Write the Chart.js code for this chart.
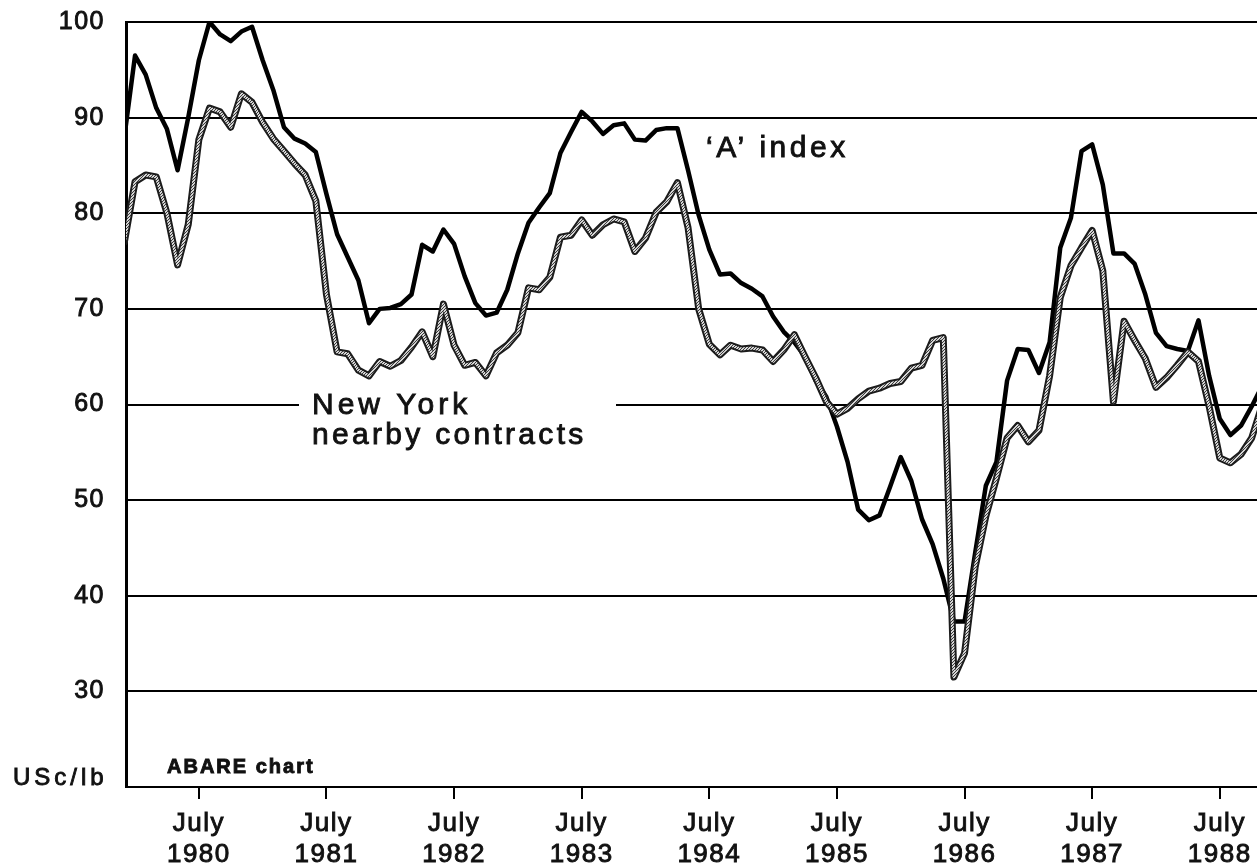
<!DOCTYPE html>
<html>
<head>
<meta charset="utf-8">
<title>Cotton prices: 'A' index and New York nearby contracts</title>
<script src="https://cdn.jsdelivr.net/npm/chart.js@4.4.1/dist/chart.umd.min.js"></script>
<style>
  html, body { margin: 0; padding: 0; background: #fff; }
  #wrap { width: 1257px; height: 864px; position: relative; }
</style>
</head>
<body>
<div id="wrap"><canvas id="chart"></canvas></div>
<script>
// Monthly series, first value is Dec 1979 (month -1, Jan 1980 = 0), last is Nov 1988.
const FIRST_MONTH = -1;

// 'A' index, USc/lb
const aIndex = [
  88, 96.5, 94.5, 91, 88.8, 84.5, 90, 96, 100, 98.7, 98, 99, 99.5,          // Dec79 - Dec80
  96, 92.9, 89, 87.8, 87.3, 86.4, 82, 77.8, 75.4, 73, 68.5, 70,             // 1981
  70.1, 70.5, 71.5, 76.7, 76, 78.3, 76.8, 73.4, 70.6, 69.3, 69.6, 72,       // 1982
  75.8, 79, 80.6, 82.1, 86.3, 88.5, 90.6, 89.6, 88.3, 89.2, 89.4, 87.7,     // 1983
  87.6, 88.7, 88.9, 88.9, 84.5, 79.8, 76.2, 73.6, 73.7, 72.7, 72.1, 71.3,   // 1984
  69.2, 67.6, 66.5, 65, 62.5, 60.8, 57.7, 54, 49, 47.9, 48.4, 51.4,         // 1985
  54.5, 52, 48, 45.4, 41.8, 37.3, 37.3, 44.5, 51.5, 54, 62.5, 65.8,         // 1986
  65.7, 63.3, 66.5, 76.4, 79.5, 86.5, 87.2, 83, 75.8, 75.8, 74.7, 71.5,     // 1987
  67.5, 66.1, 65.8, 65.6, 68.8, 63, 58.5, 56.8, 57.8, 59.8, 62              // 1988
];

// New York nearby contracts, USc/lb
const nyNearby = [
  77, 83.3, 84, 83.8, 80, 74.6, 78.8, 87.7, 91, 90.6, 89, 92.5, 91.6,
  89.5, 87.8, 86.5, 85.2, 84, 81.3, 71.5, 65.5, 65.3, 63.6, 63, 64.5,
  64, 64.6, 66, 67.6, 65, 70.5, 66.2, 64.1, 64.4, 63, 65.4, 66.2,
  67.5, 72.2, 72, 73.3, 77.5, 77.7, 79.3, 77.7, 78.8, 79.4, 79.1, 76,
  77.4, 80.1, 81.2, 83.2, 78.5, 70, 66.3, 65.2, 66.2, 65.8, 65.9, 65.7,
  64.5, 65.7, 67.3, 65, 62.8, 60.3, 59, 59.6, 60.6, 61.4, 61.7, 62.2,
  62.4, 63.8, 64.1, 66.7, 67, 31.5, 34, 43, 48.3, 52.3, 56.5, 57.8,
  56.1, 57.3, 63, 71.2, 74.5, 76.4, 78.2, 74, 60.3, 68.7, 66.7, 64.8,
  61.8, 62.8, 64.1, 65.5, 64.5, 59.8, 54.4, 53.9, 54.8, 56.5, 60
];

// x-axis ticks: July of each year (months since Jan 1980)
const julyTicks = [6, 18, 30, 42, 54, 66, 78, 90, 102];
const julyYears = ['1980', '1981', '1982', '1983', '1984', '1985', '1986', '1987', '1988'];
const yTicks = [30, 40, 50, 60, 70, 80, 90, 100];

const FONT = "'Liberation Sans', Arial, Helvetica, sans-serif";
const INK = '#111';

const toPoints = (vals) => vals.map((v, i) => ({ x: FIRST_MONTH + i, y: v }));

const canvas = document.getElementById('chart');

// Speckled light core of the printed New York line
function speckle() {
  const c = document.createElement('canvas');
  c.width = 3; c.height = 3;
  const g = c.getContext('2d');
  g.fillStyle = '#d6d6d6';
  g.fillRect(0, 0, 3, 3);
  g.fillStyle = '#3a3a3a';
  g.fillRect(0, 0, 1, 1);
  g.fillRect(2, 1, 1, 1);
  g.fillRect(1, 2, 1, 1);
  return canvas.getContext('2d').createPattern(c, 'repeat');
}

function text(ctx, str, x, y, font, spacing) {
  ctx.save();
  ctx.font = font;
  ctx.letterSpacing = spacing;
  ctx.fillStyle = INK;
  ctx.strokeStyle = INK;
  ctx.lineWidth = 0.9;
  ctx.textAlign = 'left';
  ctx.textBaseline = 'alphabetic';
  ctx.fillText(str, x, y);
  ctx.strokeText(str, x, y);
  ctx.restore();
}

// Inline series labels, chart credit and unit label
const annotate = {
  id: 'annotate',
  beforeDraw(chart) {
    chart.ctx.letterSpacing = '1.5px';
  },
  beforeDatasetsDraw(chart) {
    const { ctx, scales: { y } } = chart;
    // the 60 gridline is broken where the New York label sits
    ctx.save();
    ctx.fillStyle = '#fff';
    ctx.fillRect(299, y.getPixelForValue(60) - 4, 317, 8);
    ctx.restore();
  },
  afterDraw(chart) {
    const { ctx } = chart;
    text(ctx, '\u2018A\u2019 index', 706, 157, `30px ${FONT}`, '3.5px');
    text(ctx, 'New York', 312, 414, `30px ${FONT}`, '4px');
    text(ctx, 'nearby contracts', 312, 444, `30px ${FONT}`, '3.3px');
    text(ctx, 'ABARE chart', 167, 773, `bold 20px ${FONT}`, '2px');
    text(ctx, 'USc/lb', 13, 785, `24px ${FONT}`, '4px');
  }
};

const lineStyle = { pointRadius: 0, tension: 0, borderJoinStyle: 'round', borderCapStyle: 'round' };

new Chart(canvas, {
  type: 'line',
  data: {
    datasets: [
      // New York line: speckled core over a dark outline (same data)
      { label: 'New York nearby contracts', data: toPoints(nyNearby), borderColor: speckle(), borderWidth: 3, ...lineStyle },
      { label: 'New York outline', data: toPoints(nyNearby), borderColor: '#1c1c1c', borderWidth: 7, ...lineStyle },
      { label: "'A' index", data: toPoints(aIndex), borderColor: '#000', borderWidth: 4.5, ...lineStyle }
    ]
  },
  options: {
    responsive: true,
    maintainAspectRatio: false,
    animation: false,
    layout: { padding: { top: 22, right: 0, bottom: 0, left: 0 } },
    plugins: {
      legend: { display: false },
      tooltip: { enabled: false }
    },
    scales: {
      x: {
        type: 'linear',
        min: -0.85,
        max: 105.5,
        afterBuildTicks: (s) => { s.ticks = julyTicks.map((v) => ({ value: v })); },
        afterFit: (s) => { s.height = 77; s.paddingLeft = 0; s.paddingRight = 0; },
        grid: { drawOnChartArea: false, drawTicks: true, tickLength: 12, color: '#000', lineWidth: 2 },
        border: { display: true, color: '#000', width: 2 },
        ticks: {
          autoSkip: false,
          maxRotation: 0,
          padding: 9,
          color: INK,
          textStrokeColor: INK,
          textStrokeWidth: 0.9,
          font: { family: FONT, size: 26, lineHeight: 1.2 },
          callback: (v) => {
            const i = julyTicks.indexOf(v);
            return i < 0 ? '' : ['July', julyYears[i]];
          }
        }
      },
      y: {
        min: 20,
        max: 100,
        afterBuildTicks: (s) => { s.ticks = yTicks.map((v) => ({ value: v })); },
        afterFit: (s) => { s.width = 126; s.paddingTop = 0; s.paddingBottom = 0; },
        grid: { color: '#000', lineWidth: 2, drawTicks: false },
        border: { display: true, color: '#000', width: 3 },
        ticks: {
          padding: 21,
          color: INK,
          textStrokeColor: INK,
          textStrokeWidth: 0.9,
          font: { family: FONT, size: 25 },
          callback: (v) => String(v)
        }
      }
    }
  },
  plugins: [annotate]
});
</script>
</body>
</html>
